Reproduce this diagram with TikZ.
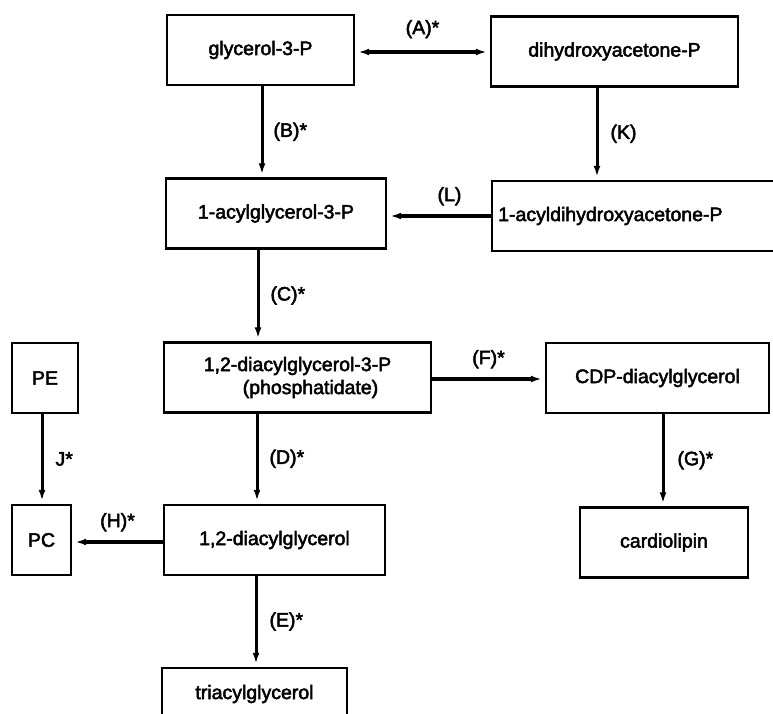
\documentclass[tikz,border=0pt]{standalone}
\usepackage{fontspec}
\setmainfont{Liberation Sans}[FakeBold=2.5]
\usetikzlibrary{arrows.meta}

\begin{document}
\begin{tikzpicture}[x=1pt,y=-1pt,
   box/.style={draw,line width=2.4pt,inner sep=0pt,minimum height=70,font=\fontsize{19.5}{23}\selectfont},
   lab/.style={inner sep=0pt,font=\fontsize{19.5}{23}\selectfont},
   arr/.style={-{Latex[length=11pt,width=7pt]},line width=3pt,shorten >=3pt},
   harr/.style={arr,line width=3.5pt}]
   \useasboundingbox (0,0) rectangle (773,713);
   \clip (0,0) rectangle (773,713);

   \draw (260.5,50) node[box,minimum width=187] (g3p) {glycerol-3-P};
   \draw (614.5,51.5) node[box,minimum width=247] (dhap) {dihydroxyacetone-P};
   \draw (276,213.5) node[box,minimum width=220] (acylg3p) {1-acylglycerol-3-P};
   \draw (491,216) node[box,anchor=west,minimum width=300,text width=288,align=left] (acyldhap) {1-acyldihydroxyacetone-P};
   \draw (297.5,377.5) node[box,minimum width=267,align=center] (phos) {1,2-diacylglycerol-3-P\\ \hspace*{26pt}(phosphatidate)};
   \draw (45,378) node[box,minimum width=66] (PE) {PE};
   \draw (657.5,378) node[box,minimum width=223] (cdp) {CDP-diacylglycerol};
   \draw (41.5,540) node[box,minimum width=59] (PC) {PC};
   \draw (274.5,540) node[box,minimum width=221] (dag) {1,2-diacylglycerol};
   \draw (664,542.5) node[box,minimum width=168] (cardio) {cardiolipin};
   \draw (254.5,694) node[box,minimum width=185,minimum height=52] (tag) {triacylglycerol};

   % columns and rows of the arrows
   \coordinate (colB) at (262,0);
   \coordinate (colK) at (597,0);
   \coordinate (colC) at (258,0);
   \coordinate (colD) at (257,0);
   \coordinate (colE) at (256,0);
   \coordinate (colG) at (663,0);
   \coordinate (colJ) at (42,0);
   \coordinate (rowA) at (0,52);
   \coordinate (rowL) at (0,216);
   \coordinate (rowF) at (0,379);
   \coordinate (rowH) at (0,542);

   \path[harr,{Latex[length=11pt,width=7pt]}-{Latex[length=11pt,width=7pt]},shorten <=3pt] (g3p.east |- rowA) edge node[lab,above=12pt] (labA) {(A)*} (dhap.west |- rowA);
   \path[arr] (g3p.south -| colB) edge node[lab,right=10pt] (labB) {(B)*} (acylg3p.north -| colB);
   \path[arr] (dhap.south -| colK) edge node[lab,right=12pt] (labK) {(K)} (acyldhap.north -| colK);
   \path[harr] (acyldhap.west |- rowL) edge node[lab,above=9pt,pos=0.4] (labL) {(L)} (acylg3p.east |- rowL);
   \path[arr] (acylg3p.south -| colC) edge node[lab,right=11pt] (labC) {(C)*} (phos.north -| colC);
   \path[harr] (phos.east |- rowF) edge node[lab,above=9pt] (labF) {(F)*} (cdp.west |- rowF);
   \path[arr] (phos.south -| colD) edge node[lab,right=11pt] (labD) {(D)*} (dag.north -| colD);
   \path[arr] (cdp.south -| colG) edge node[lab,right=13pt] (labG) {(G)*} (cardio.north -| colG);
   \path[arr] (PE.south -| colJ) edge node[lab,right=12pt] (labJ) {J*} (PC.north -| colJ);
   \path[harr] (dag.west |- rowH) edge node[lab,above=9pt] (labH) {(H)*} (PC.east |- rowH);
   \path[arr] (dag.south -| colE) edge node[lab,right=12pt] (labE) {(E)*} (tag.north -| colE);

\end{tikzpicture}
\end{document}
